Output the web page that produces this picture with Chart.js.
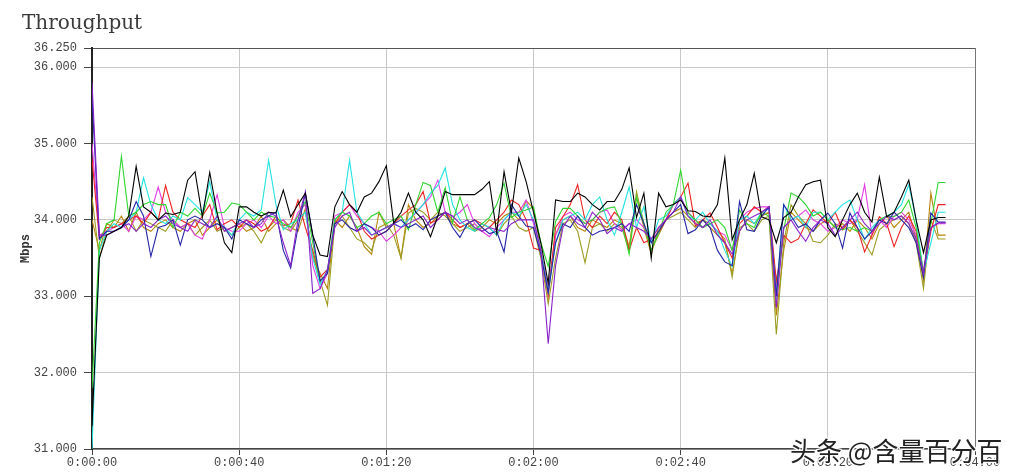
<!DOCTYPE html>
<html>
<head>
<meta charset="utf-8">
<script src="https://cdn.jsdelivr.net/npm/chart.js@4.4.1/dist/chart.umd.min.js"></script>
<style>
  html, body { margin: 0; padding: 0; background: #fff; }
  #wrap { position: relative; width: 1019px; height: 476px; }
  #title { position: absolute; left: 22px; top: 10px; font: 20px "DejaVu Serif", serif; color: #3a3a3a; }
  #mark { position: absolute; left: 790px; top: 431px; font: 26px "Noto Sans CJK SC", sans-serif; color: #222;
          text-shadow: -1px -1px 0 #fff, 1px -1px 0 #fff, -1px 1px 0 #fff, 1px 1px 0 #fff, 0 0 3px #fff; white-space: nowrap; }
</style>
</head>
<body>
<div id="wrap">
  <canvas id="c" width="1019" height="476"></canvas>
  <div id="title">Throughput</div>
  <div id="mark">头条 @含量百分百</div>
</div>
<script>
// Throughput per run, one sample every 2 s (Mbps)
const TIMES = [0,2,4,6,8,10,12,14,16,18,20,22,24,26,28,30,32,34,36,38,40,42,44,46,48,50,52,54,56,58,
  60,62,64,66,68,70,72,74,76,78,80,82,84,86,88,90,92,94,96,98,100,102,104,106,108,110,112,114,116,118,
  120,122,124,126,128,130,132,134,136,138,140,142,144,146,148,150,152,154,156,158,160,162,164,166,168,170,
  172,174,176,178,180,182,184,186,188,190,192,194,196,198,200,202,204,206,208,210,212,214,216,218,220,222,
  224,226,228,230,232];

const X_TICKS = [0, 40, 80, 120, 160, 200, 240];
const X_LABELS = ["0:00:00", "0:00:40", "0:01:20", "0:02:00", "0:02:40", "0:03:20", "0:04:00"];
const Y_TICKS = [31, 32, 33, 34, 35, 36, 36.25];

const BLACK = [31.3,33.5,33.8,33.85,33.9,34.05,34.7,34.17,34.1,34.0,
  34.09,34.07,34.1,34.52,34.63,34.04,34.62,34.09,33.7,33.57,
  34.17,34.17,34.1,34.05,34.1,34.09,34.39,34.04,34.2,34.35,
  33.8,33.54,33.52,34.17,34.37,34.2,34.1,34.3,34.35,34.5,
  34.71,33.96,34.1,34.35,34.1,34.0,33.78,34.05,34.37,34.33,
  34.33,34.33,34.33,34.4,34.5,33.83,34.63,34.1,34.81,34.5,
  34.1,33.7,33.17,34.26,34.24,34.24,34.35,34.3,34.2,34.13,
  34.24,34.24,34.4,34.68,34.03,34.35,33.5,34.35,34.17,34.2,
  34.26,34.12,34.11,34.05,34.04,34.2,34.81,33.74,34.0,34.2,
  34.61,34.04,34.0,33.7,34.03,34.1,34.3,34.46,34.5,34.52,
  33.9,33.78,34.0,34.2,34.35,34.1,33.97,34.56,34.04,34.1,
  34.3,34.52,34.0,33.57,34.0,34.03,34.03];

const GREEN = [31.8,33.7,33.95,34.0,34.83,34.05,34.1,34.2,34.24,34.2,
  34.2,33.9,34.1,34.05,34.15,34.05,34.35,34.09,34.1,34.22,
  34.2,34.1,34.0,34.1,34.05,34.03,33.95,33.9,34.05,34.24,
  33.7,33.2,33.3,34.0,34.1,34.05,33.9,33.95,34.05,34.1,
  33.95,34.0,34.05,33.87,34.2,34.49,34.45,34.1,34.42,33.96,
  34.3,34.0,33.87,33.95,34.03,34.2,34.48,34.03,34.1,34.13,
  34.17,33.7,33.39,33.98,34.15,34.15,34.05,33.95,34.0,34.1,
  34.15,34.17,33.95,33.55,34.3,33.95,33.6,33.83,34.1,34.2,
  34.65,34.09,34.0,33.9,33.95,34.0,33.9,33.6,34.13,33.95,
  33.9,34.1,34.05,33.0,33.87,34.35,34.3,34.2,34.05,34.1,
  34.0,33.9,33.87,33.9,33.85,33.9,33.85,34.0,34.05,34.04,
  34.1,34.26,33.9,33.3,33.95,34.49,34.49];

const CYAN = [31.0,33.6,33.85,33.95,33.9,34.0,34.1,34.55,34.2,34.0,
  33.95,34.05,34.0,34.29,34.2,34.1,34.5,34.0,33.9,33.8,
  34.0,34.1,34.05,34.13,34.78,34.2,33.87,33.95,34.0,34.1,
  33.5,33.15,33.35,34.0,34.1,34.78,34.1,33.95,33.8,33.85,
  33.9,33.95,33.9,34.0,34.1,34.2,34.35,34.45,34.68,34.2,
  34.0,33.9,33.85,33.95,33.9,33.8,34.0,34.1,34.05,34.2,
  34.0,33.6,33.05,33.7,34.0,34.05,34.1,34.0,34.2,34.3,
  34.0,33.8,34.1,34.43,33.9,34.17,33.7,34.0,34.05,34.2,
  34.3,34.05,34.0,34.1,33.95,33.85,33.6,33.39,34.0,34.05,
  33.95,34.1,34.15,33.0,34.2,34.0,34.05,33.9,34.1,34.1,
  34.0,34.1,34.2,34.26,34.0,33.74,33.9,34.0,34.05,34.1,
  34.2,34.46,34.0,33.3,33.7,34.1,34.1];

const RED = [34.8,33.75,33.9,33.9,33.95,34.0,34.05,33.95,34.1,34.0,
  34.45,34.1,34.0,33.95,33.9,34.05,34.2,33.87,33.95,34.0,
  33.9,34.0,33.95,33.85,33.9,34.05,33.92,33.95,34.26,33.9,
  33.6,33.25,33.35,33.95,34.1,34.2,34.1,33.85,33.75,33.8,
  33.85,33.95,34.05,34.13,34.2,34.37,33.96,34.0,34.1,34.0,
  33.9,33.95,34.0,33.95,33.9,34.0,34.1,34.26,34.2,34.0,
  33.63,33.6,33.0,33.9,34.04,34.2,34.46,34.0,33.9,34.05,
  33.95,34.1,34.0,33.6,33.9,33.7,33.75,33.83,34.0,34.2,
  34.3,34.48,33.92,34.0,34.09,33.9,33.7,33.5,33.95,34.05,
  34.17,34.1,34.17,33.2,33.8,33.7,33.75,33.95,34.13,34.05,
  33.95,34.1,33.87,34.0,33.9,33.58,33.8,34.04,33.95,33.65,
  33.9,34.05,33.85,33.3,33.85,34.2,34.2];

const MAGENTA = [35.0,33.8,33.85,33.9,33.95,33.85,34.05,34.0,34.1,34.43,
  34.1,34.0,33.9,33.95,33.8,33.75,34.0,34.33,33.9,33.85,
  33.85,33.95,34.0,33.9,34.05,33.95,34.0,33.85,34.1,34.2,
  33.4,33.1,33.3,34.05,34.1,34.2,34.05,33.95,33.9,33.85,
  33.72,33.8,33.9,34.0,34.09,34.2,34.3,34.52,34.1,34.04,
  34.1,34.2,33.95,33.85,33.78,33.9,34.0,34.1,34.1,34.26,
  33.95,33.6,33.1,33.8,34.05,34.1,34.0,33.95,34.0,34.1,
  34.13,33.95,33.87,33.95,34.0,33.9,33.75,33.9,34.0,34.2,
  34.3,34.1,34.0,33.9,33.95,33.85,33.8,33.6,34.0,34.1,
  34.15,34.17,34.17,33.1,33.9,34.0,34.05,34.13,34.0,33.95,
  33.85,33.9,34.0,33.95,34.0,34.46,33.8,34.0,33.9,34.05,
  34.1,34.0,33.8,33.35,33.9,33.95,33.95];

const BLUE = [35.6,33.75,33.85,33.85,33.9,34.0,34.24,34.05,33.52,33.9,
  33.93,34.0,33.67,34.0,34.05,34.0,33.9,33.95,33.9,33.75,
  34.0,33.95,33.9,34.0,34.05,34.1,33.6,33.37,33.9,34.35,
  33.8,33.2,33.3,33.95,34.0,33.9,33.85,33.95,33.9,33.8,
  33.85,33.95,34.0,33.9,33.95,33.87,34.0,34.05,34.1,33.9,
  33.77,33.95,34.0,33.9,33.82,33.85,33.58,34.2,34.05,33.92,
  33.9,33.55,33.05,33.7,33.95,33.9,34.05,33.9,33.8,33.85,
  33.87,33.9,33.95,33.85,34.2,33.95,33.7,33.85,34.0,34.1,
  34.2,33.82,33.87,34.0,33.9,33.6,33.45,33.4,34.24,33.87,
  33.85,34.05,34.17,33.0,34.2,34.05,33.9,33.95,33.85,34.0,
  34.09,33.95,33.63,34.09,33.9,33.75,33.85,34.0,33.95,34.1,
  34.0,33.9,33.7,33.25,34.09,33.97,33.97];

const PURPLE = [35.8,33.8,33.8,33.85,33.9,33.95,33.85,33.95,33.9,34.0,
  34.05,33.95,33.9,33.85,34.0,33.95,33.9,34.05,33.85,33.9,
  33.95,34.0,33.9,33.95,34.1,34.05,33.7,33.4,34.0,34.37,
  33.04,33.1,33.35,33.9,34.05,34.1,33.85,33.9,33.8,33.85,
  33.9,33.95,33.9,33.95,34.0,34.05,33.9,34.0,34.1,34.05,
  33.95,34.0,33.9,33.85,33.9,33.87,33.85,33.95,34.0,34.0,
  34.0,33.6,32.38,33.4,33.9,34.05,33.95,33.9,34.1,34.0,
  33.82,33.9,33.85,33.95,33.9,33.85,33.75,33.9,34.0,34.1,
  34.3,34.05,33.95,33.9,34.0,33.8,33.7,33.55,33.85,34.0,
  34.05,34.1,34.17,32.85,33.9,34.0,33.85,33.72,33.9,34.0,
  33.95,33.8,33.9,34.0,34.1,33.95,33.85,33.95,34.05,34.0,
  34.05,33.95,33.75,33.3,33.9,33.96,33.96];

const OLIVE = [34.3,33.5,33.85,34.0,33.95,34.05,33.85,34.0,33.95,33.9,
  33.85,34.0,33.9,33.95,33.8,33.9,34.0,33.85,33.9,33.8,
  33.9,33.95,33.85,33.7,33.9,34.0,33.9,33.85,34.0,34.1,
  33.55,33.2,32.88,33.95,34.05,33.9,33.75,33.7,33.6,33.9,
  33.95,33.8,33.5,34.09,34.15,34.1,34.0,34.1,34.05,33.95,
  33.85,33.9,33.95,33.85,33.9,33.8,33.95,34.05,33.9,33.85,
  33.9,33.5,32.9,33.5,33.95,34.0,33.85,33.44,33.9,33.95,
  33.85,33.95,33.9,33.6,34.37,33.95,33.6,33.8,34.0,34.05,
  34.1,34.0,33.9,34.0,33.95,33.85,33.75,33.25,33.9,33.95,
  33.85,34.0,34.05,32.5,33.7,34.2,34.05,33.95,33.72,33.7,
  33.8,33.95,33.9,34.0,33.85,33.7,33.54,33.87,33.95,34.0,
  34.05,33.95,33.7,33.1,34.0,33.75,33.75];

const GOLD = [34.0,33.6,33.95,33.9,34.05,33.85,34.1,33.9,33.85,33.95,
  34.0,33.9,33.85,33.95,34.0,33.8,33.9,34.0,33.85,33.9,
  33.95,33.85,33.9,34.05,33.85,33.95,34.0,33.9,33.85,34.15,
  33.5,33.3,33.1,34.0,33.9,34.05,33.9,33.65,33.55,34.1,
  33.9,33.95,33.5,34.2,34.0,33.9,33.95,34.05,34.1,33.95,
  33.9,33.95,33.85,33.9,34.0,33.95,34.05,34.1,34.0,34.25,
  34.15,33.6,33.05,33.8,34.0,34.05,33.9,33.85,34.0,33.95,
  33.9,34.0,33.95,33.65,34.3,33.9,33.55,33.9,34.0,34.1,
  34.15,34.05,33.95,34.0,33.9,33.8,33.7,33.3,33.85,34.0,
  33.95,34.05,34.1,32.75,33.6,34.1,34.0,33.9,33.85,33.95,
  34.0,33.9,33.95,33.85,34.0,33.9,33.75,33.95,34.05,33.9,
  34.0,34.1,33.75,33.2,34.35,33.8,33.8];

const SERIES = [
  { label: "run 1", color: "#000000", values: BLACK },
  { label: "run 2", color: "#8a22cc", values: PURPLE },
  { label: "run 3", color: "#2424a8", values: BLUE },
  { label: "run 4", color: "#2fd62f", values: GREEN },
  { label: "run 5", color: "#22e2e2", values: CYAN },
  { label: "run 6", color: "#ee2222", values: RED },
  { label: "run 7", color: "#e53be5", values: MAGENTA },
  { label: "run 8", color: "#9c9c22", values: OLIVE },
  { label: "run 9", color: "#b8860b", values: GOLD },
];

const MONO = "'Liberation Mono', 'DejaVu Sans Mono', monospace";

new Chart(document.getElementById("c"), {
  type: "line",
  data: {
    datasets: SERIES.map((s) => ({
      label: s.label,
      data: s.values.map((v, i) => ({ x: TIMES[i], y: v })),
      borderColor: s.color, borderWidth: 1.1, pointRadius: 0, tension: 0, fill: false,
    })),
  },
  options: {
    responsive: false, animation: false,
    layout: { padding: { top: 48, right: 44, left: 0, bottom: 0 } },
    plugins: { legend: { display: false }, tooltip: { enabled: false } },
    scales: {
      x: {
        type: "linear", min: 0, max: 240,
        afterBuildTicks: (s) => { s.ticks = X_TICKS.map((v) => ({ value: v })); },
        afterFit: (s) => { s.height = 27; },
        ticks: { autoSkip: false, maxRotation: 0, padding: 1, color: "#444",
                 font: { family: MONO, size: 12 },
                 callback: (v) => X_LABELS[X_TICKS.indexOf(v)] },
        grid: { color: (c) => (c.tick && c.tick.value === 240 ? "#777" : "#c8c8c8"),
                tickLength: 6, tickColor: "#444" },
        border: { color: "#444", width: 1.5 },
      },
      y: {
        min: 31, max: 36.25,
        afterBuildTicks: (s) => { s.ticks = Y_TICKS.map((v) => ({ value: v })); },
        afterFit: (s) => { s.width = 92; },
        ticks: { autoSkip: false, padding: 7, color: "#444",
                 font: { family: MONO, size: 12 },
                 callback: (v) => Number(v).toFixed(3) },
        title: { display: true, text: "Mbps", color: "#333",
                 font: { family: MONO, size: 12, weight: "bold" }, padding: { top: 19, bottom: 0 } },
        grid: { color: (c) => (c.tick && c.tick.value === 36.25 ? "#555" : "#c8c8c8"),
                tickLength: 8, tickColor: "#444" },
        border: { color: "#222", width: 2 },
      },
    },
  },
});
</script>
</body>
</html>
